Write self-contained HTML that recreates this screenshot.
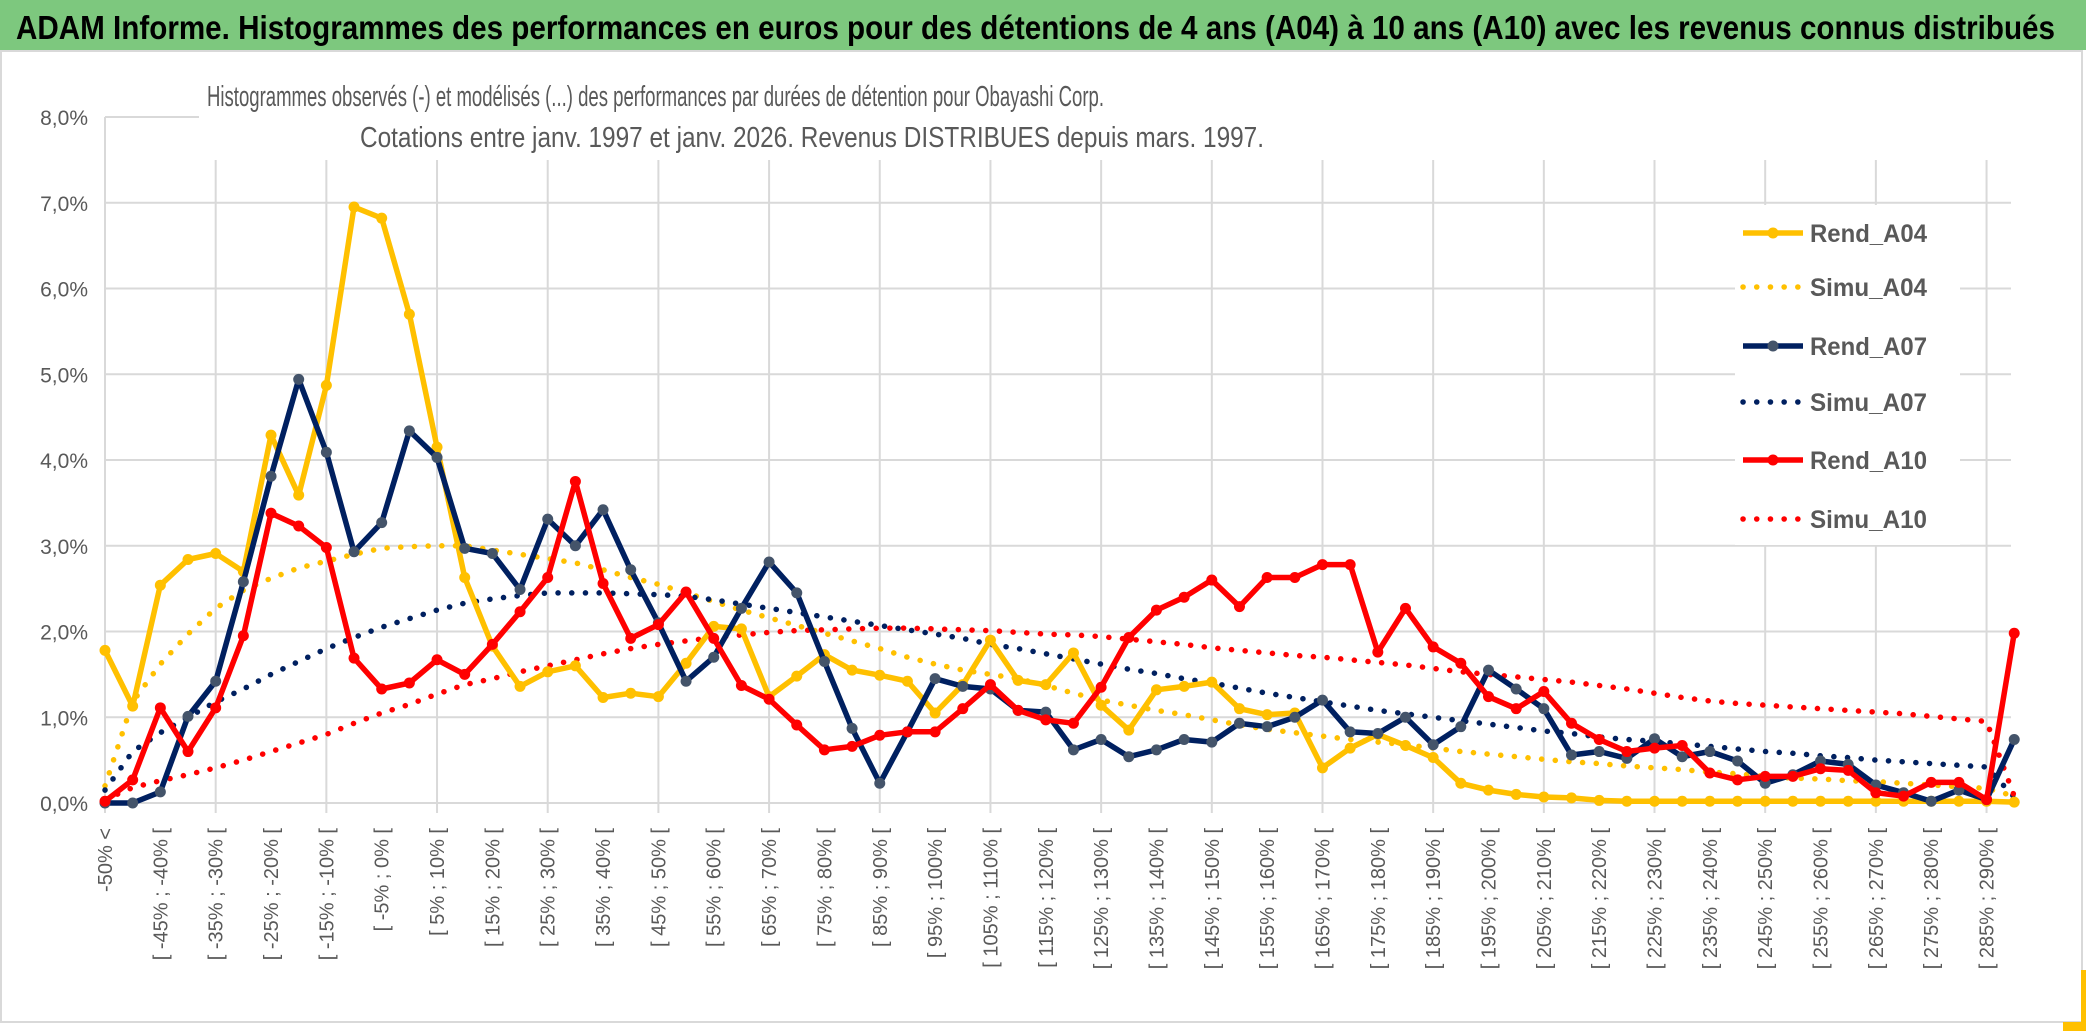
<!DOCTYPE html>
<html><head><meta charset="utf-8"><style>
html,body{margin:0;padding:0;background:#fff;}
svg{display:block;font-family:"Liberation Sans",sans-serif;}
</style></head><body>
<svg id="chart" width="2086" height="1031" viewBox="0 0 2086 1031" xmlns="http://www.w3.org/2000/svg">
<rect x="0" y="0" width="2086" height="50" fill="#7DC87E"/>
<text x="16" y="39" font-family="Liberation Sans" font-size="33" font-weight="bold" fill="#000" textLength="2039" lengthAdjust="spacingAndGlyphs">ADAM Informe. Histogrammes des performances en euros pour des détentions de 4 ans (A04) à 10 ans (A10) avec les revenus connus distribués</text>
<rect x="1" y="51" width="2081" height="971" fill="none" stroke="#D9D9D9" stroke-width="2"/>
<rect x="2081" y="970" width="5" height="61" fill="#FFC000"/>
<rect x="2063" y="1022" width="23" height="9" fill="#FFC000"/>
<g id="grid"></g>
<g id="ylabels"></g>
<g id="xlabels"></g>
<g id="series"></g>
<rect x="199" y="60" width="1080" height="98" fill="#fff"/>
<text x="207" y="106" font-family="Liberation Sans" font-size="29" fill="#595959" textLength="897" lengthAdjust="spacingAndGlyphs">Histogrammes observés (-) et modélisés (...) des performances par durées de détention pour Obayashi Corp.</text>
<text x="360" y="147" font-family="Liberation Sans" font-size="29" fill="#595959" textLength="904" lengthAdjust="spacingAndGlyphs">Cotations entre janv. 1997 et janv. 2026. Revenus DISTRIBUES depuis mars. 1997.</text>
<g id="legend"></g>
</svg>
<script>
const rendA04=[1.78,1.13,2.54,2.84,2.91,2.7,4.29,3.59,4.87,6.95,6.82,5.7,4.15,2.63,1.83,1.36,1.53,1.6,1.23,1.28,1.24,1.63,2.06,2.03,1.24,1.48,1.73,1.55,1.49,1.42,1.05,1.38,1.9,1.43,1.38,1.75,1.14,0.85,1.32,1.36,1.41,1.1,1.03,1.05,0.41,0.64,0.8,0.67,0.53,0.23,0.15,0.1,0.07,0.06,0.03,0.02,0.02,0.02,0.02,0.02,0.02,0.02,0.02,0.02,0.02,0.02,0.02,0.02,0.02,0.01];
const simuA04=[0.2,1.18,1.62,1.97,2.27,2.48,2.62,2.74,2.82,2.9,2.97,2.99,3.0,3.0,2.95,2.9,2.85,2.8,2.72,2.63,2.55,2.45,2.35,2.25,2.16,2.07,1.98,1.89,1.8,1.7,1.62,1.55,1.5,1.45,1.37,1.28,1.2,1.14,1.08,1.03,0.97,0.91,0.86,0.82,0.78,0.74,0.71,0.68,0.64,0.6,0.57,0.54,0.51,0.48,0.46,0.43,0.41,0.39,0.36,0.34,0.31,0.29,0.28,0.26,0.25,0.23,0.21,0.19,0.17,0.08];
const rendA07=[0.0,0.0,0.13,1.01,1.42,2.58,3.81,4.94,4.09,2.93,3.27,4.34,4.03,2.97,2.91,2.49,3.31,3.0,3.42,2.72,2.1,1.42,1.7,2.27,2.81,2.45,1.65,0.87,0.23,0.83,1.45,1.36,1.33,1.08,1.06,0.62,0.74,0.54,0.62,0.74,0.71,0.93,0.89,1.0,1.2,0.83,0.81,1.0,0.68,0.89,1.55,1.33,1.1,0.56,0.6,0.52,0.75,0.54,0.6,0.49,0.23,0.33,0.49,0.45,0.21,0.12,0.02,0.15,0.04,0.74];
const simuA07=[0.15,0.6,0.82,1.0,1.18,1.33,1.5,1.65,1.8,1.93,2.05,2.15,2.25,2.33,2.38,2.42,2.45,2.45,2.45,2.44,2.43,2.41,2.37,2.32,2.27,2.22,2.17,2.12,2.07,2.02,1.97,1.92,1.85,1.8,1.74,1.68,1.62,1.56,1.51,1.45,1.4,1.34,1.28,1.23,1.18,1.13,1.08,1.04,1.0,0.96,0.92,0.88,0.84,0.81,0.77,0.74,0.72,0.69,0.66,0.63,0.6,0.58,0.55,0.53,0.5,0.48,0.46,0.44,0.42,0.07];
const rendA10=[0.02,0.27,1.11,0.6,1.11,1.95,3.38,3.23,2.98,1.69,1.33,1.4,1.67,1.5,1.85,2.23,2.63,3.75,2.56,1.92,2.08,2.46,1.92,1.37,1.21,0.91,0.62,0.66,0.79,0.83,0.83,1.1,1.38,1.08,0.97,0.93,1.35,1.93,2.25,2.4,2.6,2.29,2.63,2.63,2.78,2.78,1.76,2.27,1.82,1.63,1.24,1.1,1.3,0.93,0.74,0.6,0.64,0.67,0.35,0.27,0.31,0.31,0.4,0.38,0.12,0.08,0.24,0.24,0.04,1.98];
const simuA10=[0.04,0.18,0.26,0.33,0.41,0.5,0.6,0.7,0.8,0.93,1.05,1.15,1.27,1.38,1.45,1.53,1.6,1.67,1.74,1.8,1.85,1.89,1.93,1.96,1.99,2.01,2.02,2.03,2.04,2.04,2.03,2.02,2.01,1.99,1.97,1.96,1.94,1.91,1.88,1.85,1.81,1.78,1.75,1.72,1.7,1.67,1.64,1.61,1.57,1.53,1.5,1.47,1.44,1.41,1.37,1.33,1.28,1.23,1.19,1.16,1.14,1.12,1.1,1.08,1.06,1.04,1.01,0.98,0.95,0.08];
const yTicks=[0,1,2,3,4,5,6,7,8];
const yTickLabels=["0,0%","1,0%","2,0%","3,0%","4,0%","5,0%","6,0%","7,0%","8,0%"];
const categories=["-50% <"];
for(let k=1;k<70;k++){const a=-55+5*k;categories.push("[ "+a+"% ; "+(a+5)+"% [");}
const legendNames=["Rend_A04","Simu_A04","Rend_A07","Simu_A07","Rend_A10","Simu_A10"];

const NS="http://www.w3.org/2000/svg";
const X0=105,DX=27.67,Y0=803,DY=85.75;
const xs=i=>X0+i*DX, ys=v=>Y0-v*DY;
function mk(tag,attrs,parent){const e=document.createElementNS(NS,tag);for(const k in attrs)e.setAttribute(k,attrs[k]);parent.appendChild(e);return e;}
const grid=document.getElementById('grid');
yTicks.forEach((t,i)=>{
  const l=mk('line',{x1:X0,x2:t===8?199:2011,y1:ys(t),y2:ys(t),stroke:'#D9D9D9','stroke-width':2},grid);
  
  
  const tx=mk('text',{x:88,y:ys(t)+8,'text-anchor':'end','font-size':21,fill:'#595959'},document.getElementById('ylabels'));
  
  
  tx.textContent=yTickLabels[i];
});
const ax=mk('line',{x1:X0,x2:X0,y1:117,y2:813,stroke:'#D9D9D9','stroke-width':2},grid);


for(let i=4;i<70;i+=4){
  const l=mk('line',{x1:xs(i),x2:xs(i),y1:160,y2:813,stroke:'#D9D9D9','stroke-width':2},grid);
  
  
}
const xl=document.getElementById('xlabels');
categories.forEach((c,i)=>{
  if(i%2)return;
  const t=mk('text',{x:0,y:0,'text-anchor':'end','font-size':20,fill:'#595959',transform:'translate('+(xs(i)+7)+',828) rotate(-90)'},xl);
  
  
  t.textContent=c;
});
const ser=document.getElementById('series');
function pts(arr){return arr.map((v,i)=>xs(i).toFixed(1)+','+ys(v).toFixed(1)).join(' ');}
function dotted(arr,color,name){
  const p=mk('polyline',{points:pts(arr),fill:'none',stroke:color,'stroke-width':5.5,'stroke-linecap':'round','stroke-dasharray':'0.1 13.6'},ser);
  
  
}
function solid(arr,color,mcolor,name){
  const p=mk('polyline',{points:pts(arr),fill:'none',stroke:color,'stroke-width':5.5,'stroke-linejoin':'round'},ser);
  
  
  arr.forEach((v,i)=>{
    const c=mk('circle',{cx:xs(i),cy:ys(v),r:5.5,fill:mcolor},ser);
    
    
  });
}
dotted(simuA04,'#FFC000','simu-a04-line');
dotted(simuA07,'#002060','simu-a07-line');
dotted(simuA10,'#FF0000','simu-a10-line');
solid(rendA04,'#FFC000','#FFC000','rend-a04-line');
solid(rendA07,'#002060','#44546A','rend-a07-line');
solid(rendA10,'#FF0000','#FF0000','rend-a10-line');
const lg=document.getElementById('legend');
const bg=mk('rect',{x:1735,y:205,width:225,height:340,fill:'#fff'},lg);


const lcol=['#FFC000','#FFC000','#002060','#002060','#FF0000','#FF0000'];
const lmk=['#FFC000',null,'#44546A',null,'#FF0000',null];
const ly=[233,287,346,402,460,519];
legendNames.forEach((n,i)=>{
  const g=mk('g',{},lg);
  
  
  const a={x1:1743,x2:1803,y1:ly[i],y2:ly[i],stroke:lcol[i],'stroke-width':5.5};
  if(!lmk[i]){a['stroke-linecap']='round';a['stroke-dasharray']='0.1 13.6';}
  mk('line',a,g);
  if(lmk[i])mk('circle',{cx:1773,cy:ly[i],r:5.5,fill:lmk[i]},g);
  const t=mk('text',{x:1810,y:ly[i]+9,'font-size':25,'font-weight':'bold',fill:'#595959',textLength:117,lengthAdjust:'spacingAndGlyphs'},g);
  t.textContent=n;
});
</script>
</body></html>
